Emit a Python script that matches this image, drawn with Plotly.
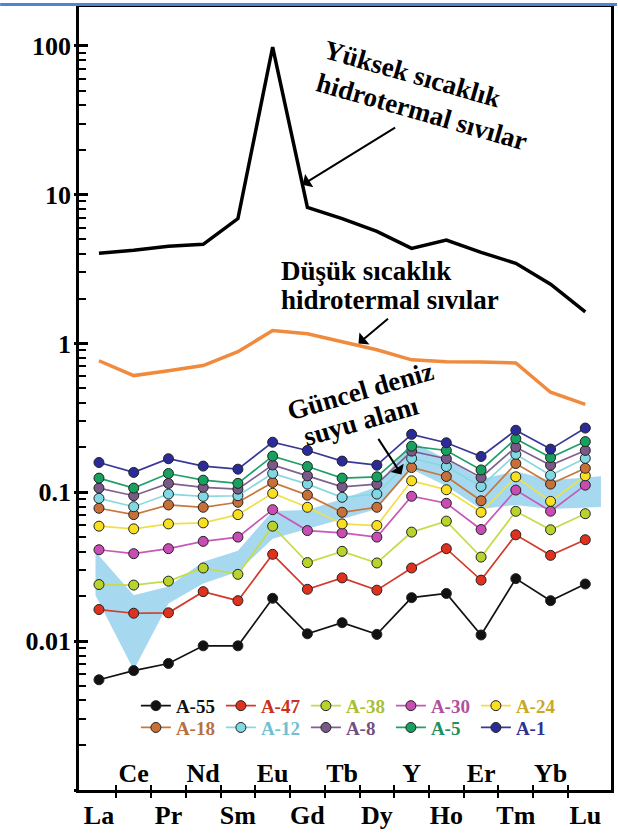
import plotly.graph_objects as go

elements = ["La", "Ce", "Pr", "Nd", "Sm", "Eu", "Gd", "Tb", "Dy", "Y", "Ho", "Er", "Tm", "Yb", "Lu"]
xpos = list(range(len(elements)))

# Samples (normalised REE+Y)
A55 = [0.0055, 0.00634, 0.00708, 0.0093, 0.0093, 0.0194, 0.0112, 0.0133, 0.0111, 0.0196, 0.0209, 0.0110, 0.0263, 0.0187, 0.0242]
A47 = [0.0163, 0.0154, 0.0155, 0.0215, 0.0187, 0.0383, 0.0223, 0.0266, 0.0220, 0.0310, 0.0418, 0.0257, 0.0518, 0.0377, 0.0480]
A38 = [0.0240, 0.0238, 0.0253, 0.0310, 0.0281, 0.0592, 0.0337, 0.0401, 0.0335, 0.0540, 0.0640, 0.0367, 0.0745, 0.0560, 0.0718]
A30 = [0.0411, 0.0387, 0.0418, 0.0468, 0.0500, 0.0764, 0.0553, 0.0534, 0.0500, 0.0940, 0.0844, 0.0562, 0.1035, 0.0746, 0.1117]
A24 = [0.0592, 0.0568, 0.0613, 0.0623, 0.0708, 0.0984, 0.0793, 0.0613, 0.0598, 0.1194, 0.1040, 0.0734, 0.1270, 0.0869, 0.1290]
A18 = [0.0781, 0.0708, 0.0822, 0.0793, 0.0857, 0.1164, 0.0957, 0.0734, 0.0793, 0.1466, 0.1277, 0.0877, 0.1560, 0.1135, 0.1450]
A12 = [0.0910, 0.0800, 0.0973, 0.0938, 0.0948, 0.1340, 0.1135, 0.0925, 0.0973, 0.1690, 0.1490, 0.1094, 0.1800, 0.1300, 0.1690]
A8 = [0.1067, 0.0948, 0.1146, 0.1079, 0.1050, 0.1527, 0.1290, 0.1089, 0.1135, 0.1890, 0.1680, 0.1257, 0.2010, 0.1520, 0.1910]
A5 = [0.1245, 0.1067, 0.1337, 0.1206, 0.1148, 0.1750, 0.1490, 0.1245, 0.1270, 0.2040, 0.1910, 0.1413, 0.2290, 0.1710, 0.2190]
A1 = [0.1585, 0.1360, 0.1680, 0.1500, 0.1430, 0.2170, 0.1910, 0.1620, 0.1520, 0.2450, 0.2150, 0.1740, 0.2610, 0.1950, 0.2700]

# Reference fluids
high_temp = [4.03, 4.22, 4.49, 4.63, 6.9, 98.0, 8.2, 6.9, 5.65, 4.35, 4.95, 4.09, 3.45, 2.5, 1.63]
low_temp = [0.765, 0.608, 0.656, 0.71, 0.88, 1.22, 1.16, 1.03, 0.906, 0.776, 0.753, 0.75, 0.74, 0.47, 0.39]

# Modern seawater field
sea_x = [-0.1, 1, 2, 3, 4, 5, 6, 7, 8, 9, 10, 11, 12, 13, 14.45]
sea_top = [0.0399, 0.0203, 0.0233, 0.0342, 0.0405, 0.075, 0.076, 0.0901, 0.1084, 0.22, 0.1667, 0.1225, 0.1387, 0.1206, 0.1283]
sea_bottom = [0.0203, 0.0064, 0.0179, 0.0244, 0.0293, 0.0487, 0.0568, 0.0662, 0.0773, 0.143, 0.110, 0.0773, 0.0822, 0.0773, 0.0796]

series_names = ["A-55", "A-47", "A-38", "A-30", "A-24", "A-18", "A-12", "A-8", "A-5", "A-1"]
series_vals = [A55, A47, A38, A30, A24, A18, A12, A8, A5, A1]
line_colors = ["#111111", "#d23a2a", "#c5dc4a", "#c858b8", "#f0e048", "#c8783c", "#88d8e0", "#806090", "#20a068", "#383898"]
marker_colors = ["#111111", "#e0301e", "#b8d42a", "#c84cb4", "#f8e020", "#c87038", "#80d8e4", "#7a5888", "#18a060", "#2a2a98"]
text_colors = ["#111111", "#c83020", "#a8c030", "#b050a0", "#c8a828", "#b87040", "#70c0d0", "#705080", "#209060", "#303090"]

ytick_vals = [0.001, 0.01, 0.1, 1, 10, 100]
ytick_text = ["0.001", "0.01", "0.1", "1", "10", "100"]

FONT = "Liberation Serif"

fig = go.Figure()

fig.add_trace(go.Scatter(
    x=sea_x + sea_x[::-1], y=sea_top + sea_bottom[::-1],
    fill="toself", fillcolor="#a6d8f0", line=dict(width=0),
    mode="lines", showlegend=False, hoverinfo="skip"))

fig.add_trace(go.Scatter(x=xpos, y=high_temp, mode="lines",
                         line=dict(color="#000000", width=3.5), showlegend=False))
fig.add_trace(go.Scatter(x=xpos, y=low_temp, mode="lines",
                         line=dict(color="#f08a3c", width=3.5), showlegend=False))

for i, (name, vals, lc, mc, tc) in enumerate(zip(series_names, series_vals, line_colors, marker_colors, text_colors)):
    fig.add_trace(go.Scatter(
        x=xpos, y=vals, mode="lines+markers",
        name=f'<span style="color:{tc}">{name}</span>',
        legend="legend" if i < 5 else "legend2",
        line=dict(color=lc, width=1.7),
        marker=dict(size=10, color=mc, line=dict(color="#222222", width=1))))

L, R, T, B = 79, 6, 4, 41
W, H = 618, 834
pw, ph = W - L - R, H - T - B


def px(x):
    return (x - L) / pw


def py(y):
    return (H - B - y) / ph


bold = dict(family=FONT, size=27, color="black", weight="bold")

annotations = [
    dict(text="Yüksek sıcaklık", x=px(413), y=py(72), textangle=16),
    dict(text="hidrotermal sıvılar", x=px(423), y=py(110), textangle=16),
    dict(text="Güncel deniz", x=px(361), y=py(391), textangle=-16),
    dict(text="suyu alanı", x=px(362), y=py(421), textangle=-16),
]
ann = []
for a in annotations:
    a.update(xref="paper", yref="paper", showarrow=False, font=bold,
             xanchor="center", yanchor="middle")
    ann.append(a)
for txt, yy in [("Düşük sıcaklık", 270), ("hidrotermal sıvılar", 299)]:
    ann.append(dict(text=txt, x=px(279), y=py(yy), xref="paper", yref="paper",
                    showarrow=False, font=bold, xanchor="left", yanchor="middle"))
for hx, hy, tx, ty in [(303, 183, 397, 125), (359, 343, 390, 317), (402, 475, 378, 438)]:
    ann.append(dict(text="", x=px(hx), y=py(hy), xref="paper", yref="paper",
                    showarrow=True, ax=tx - hx, ay=ty - hy, arrowhead=1,
                    arrowsize=1.3, arrowwidth=2, arrowcolor="black"))

half_ticks = [i + 0.5 for i in range(len(elements) - 1)]
xr = [-0.575, 14.74]
yr = [-3, 2.26]

legend_common = dict(orientation="h", xanchor="left", yanchor="top",
                     entrywidth=40, entrywidthmode="pixels",
                     font=dict(family=FONT, size=19, weight="bold"),
                     bgcolor="rgba(0,0,0,0)", itemwidth=30, traceorder="normal")

tickfont = dict(family=FONT, size=26, weight="bold", color="black")

fig.update_layout(
    width=W, height=H,
    margin=dict(l=L, r=R, t=T, b=B),
    paper_bgcolor="white", plot_bgcolor="white",
    font=dict(family=FONT, color="black"),
    showlegend=True,
    legend=dict(x=px(136), y=py(689), **legend_common),
    legend2=dict(x=px(136), y=py(711), **legend_common),
    xaxis=dict(range=xr, tickmode="array", tickvals=xpos[0::2], ticktext=elements[0::2],
               ticks="", showgrid=False, zeroline=False,
               showline=True, linecolor="black", linewidth=2.5, mirror=True,
               tickfont=tickfont,
               minor=dict(tickmode="array", tickvals=half_ticks, ticks="outside",
                          ticklen=5, tickwidth=2, tickcolor="black", showgrid=False)),
    xaxis2=dict(range=xr, overlaying="x", side="bottom", anchor="y",
                tickmode="array", tickvals=xpos[1::2], ticktext=elements[1::2],
                ticklabelposition="inside", ticks="", showgrid=False, zeroline=False,
                showline=False, tickfont=tickfont,
                minor=dict(tickmode="array", tickvals=half_ticks, ticks="inside",
                           ticklen=5, tickwidth=2, tickcolor="black", showgrid=False)),
    yaxis=dict(type="log", range=yr, tickmode="array", tickvals=ytick_vals,
               ticktext=ytick_text, ticks="inside", ticklen=9, tickwidth=2.5,
               tickcolor="black", showgrid=False, zeroline=False,
               showline=True, linecolor="black", linewidth=2.5, mirror=True,
               tickfont=tickfont,
               minor=dict(tickmode="array",
                          tickvals=[m * 10 ** e for e in range(-3, 2) for m in range(2, 10)],
                          ticks="inside", ticklen=7, tickwidth=1.5, tickcolor="black",
                          showgrid=False)),
    yaxis2=dict(type="log", range=yr, overlaying="y", side="left", anchor="x",
                tickmode="array", tickvals=ytick_vals, ticks="outside", ticklen=4,
                tickwidth=2.5, tickcolor="black", showticklabels=False,
                showgrid=False, zeroline=False, showline=False),
    annotations=ann,
    shapes=[dict(type="rect", xref="paper", yref="paper", x0=px(0), x1=px(W),
                 y0=py(3), y1=py(0), fillcolor="#4a86d4", line=dict(width=0))],
)

# Hidden traces attached to the overlay axes so they render
fig.add_trace(go.Scatter(x=[xr[0]], y=[0.001], xaxis="x2", mode="markers",
                         marker=dict(opacity=0), showlegend=False, hoverinfo="skip"))
fig.add_trace(go.Scatter(x=[xr[0]], y=[0.001], yaxis="y2", mode="markers",
                         marker=dict(opacity=0), showlegend=False, hoverinfo="skip"))

fig.write_html("out.html", config={"displayModeBar": False},
               post_script="document.body.style.margin='0px';")
